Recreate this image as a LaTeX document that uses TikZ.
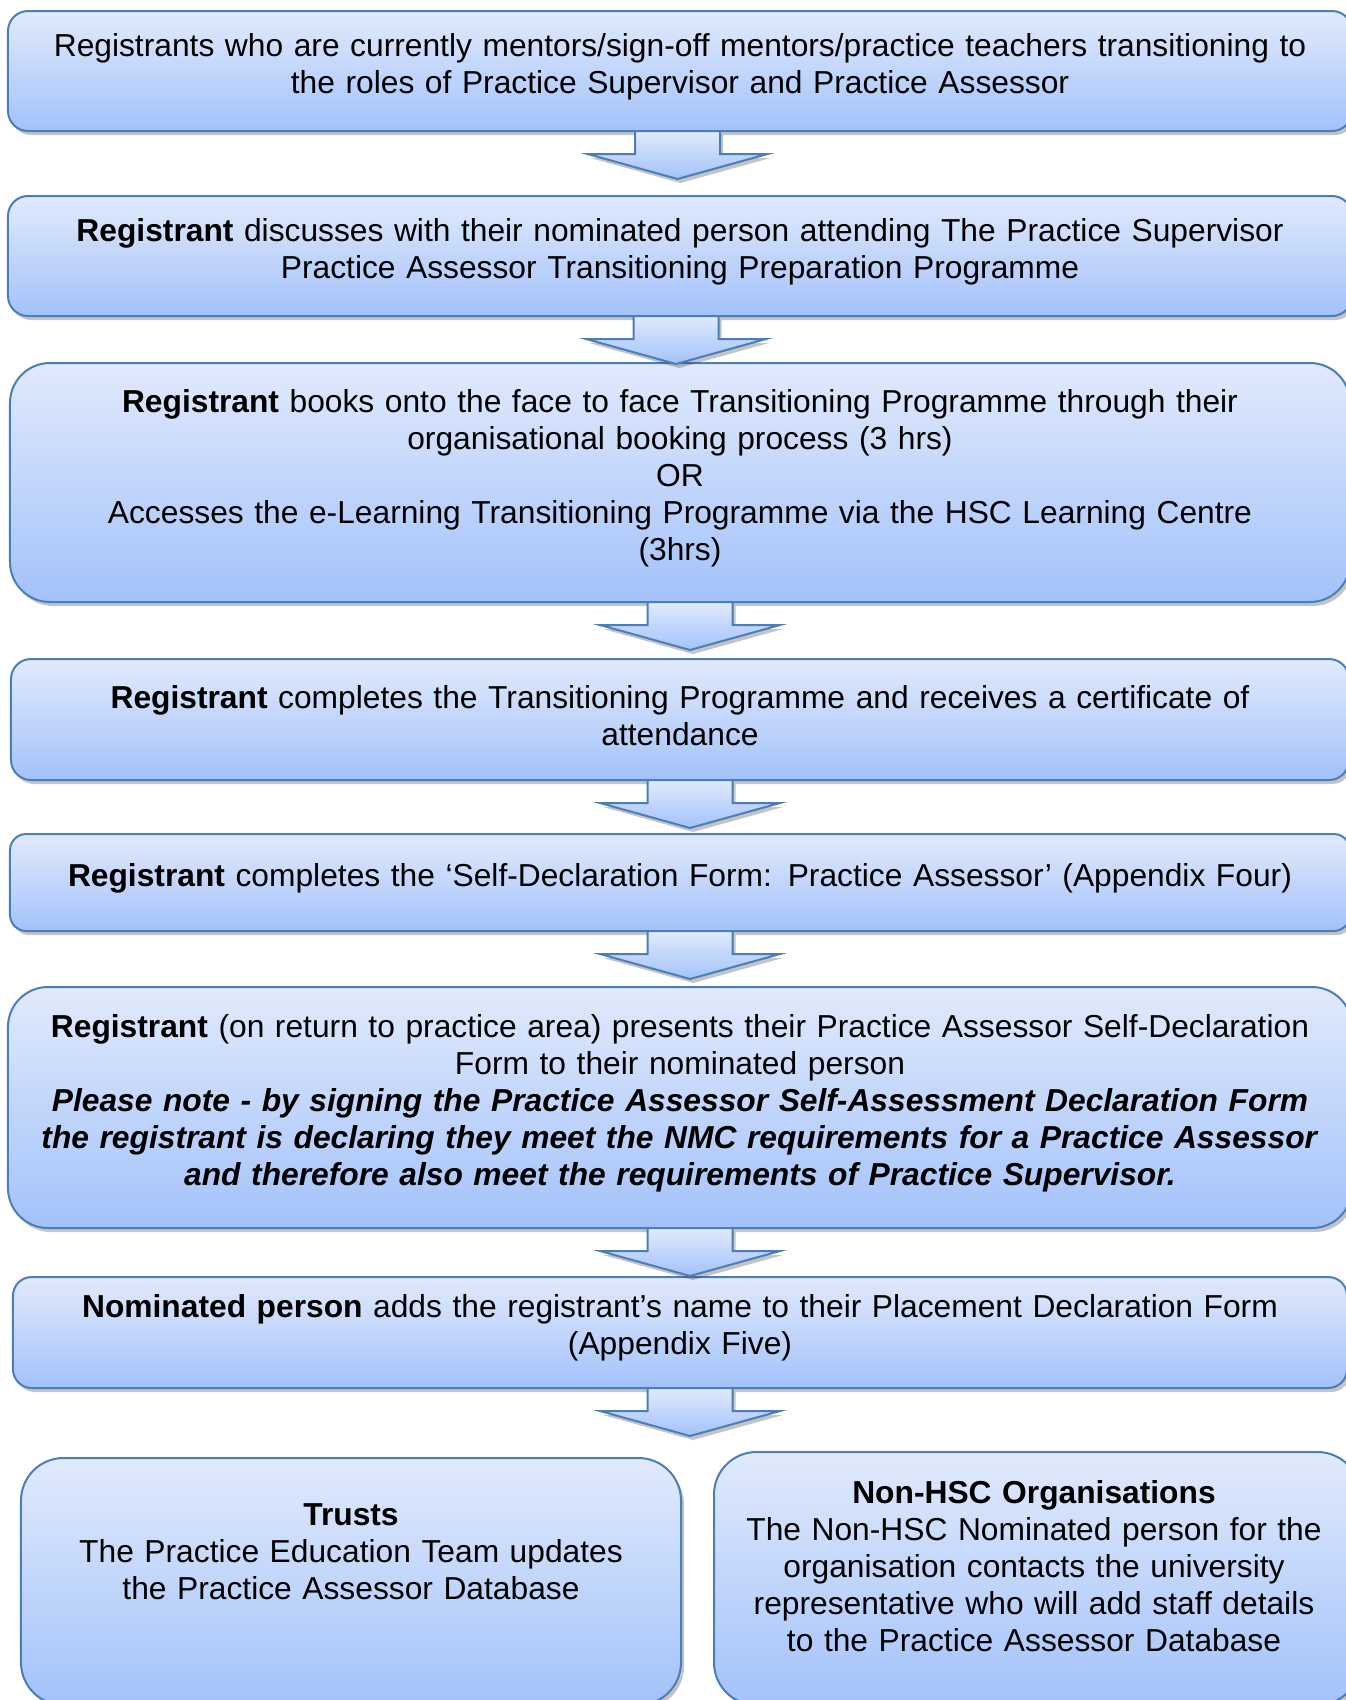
\documentclass[tikz,border=0pt]{standalone}
\usepackage{fontspec}
\setmainfont{Liberation Sans}
\usetikzlibrary{shapes,arrows.meta,positioning,shadows,calc}
\definecolor{flowedge}{RGB}{74,126,187}
\definecolor{flowtop}{RGB}{225,234,252}
\definecolor{flowbot}{RGB}{163,194,250}
\definecolor{shadegray}{RGB}{60,60,60}
\tikzset{
  stepbox/.style={rectangle, rounded corners=#1,
    draw=flowedge, line width=0.8pt,
    top color=flowtop, bottom color=flowbot,
    text width=530pt, inner sep=0pt, align=center,
    font=\fontsize{12.7}{14.8}\selectfont,
    execute at end node={\par\vspace*{3.4pt}},
    drop shadow={shadow xshift=1.2pt, shadow yshift=-1.6pt,
      opacity=0.3, fill=shadegray}},
  sidebox/.style={stepbox=#1, text width=10pt},
  sidetext/.style={text width=255pt, inner sep=0pt, align=center,
    font=\fontsize{12.7}{14.8}\selectfont},
  flowarr/.style={draw=flowedge, line width=0.8pt,
    top color=flowtop, bottom color=flowbot, line join=miter,
    drop shadow={shadow xshift=1.2pt, shadow yshift=-1.6pt,
      opacity=0.3, fill=shadegray}}
}
%% block arrow hanging below a box
\newcommand{\flowarrow}[2]{%
  \draw[flowarr] ($(#1.south)+(#2-42.5,-1)$) -- ++(0,23) -- ++(-47.5,0)
    -- ++(90,25) -- ++(90,-25) -- ++(-47.5,0) -- ++(0,-23) -- cycle;}

\begin{document}
\begin{tikzpicture}[x=0.4pt, y=-0.4pt]
\clip (0,0) rectangle (1346,1700);
\fill[white] (0,0) rectangle (1346,1700);

\node[stepbox=8pt, minimum width=537.6pt, minimum height=48pt] (intro) at (680,71)
  {Registrants who are currently mentors/sign-off mentors/practice teachers transitioning to\\
   the roles of Practice Supervisor and Practice Assessor};
\node[stepbox=8pt, minimum width=537.6pt, minimum height=48pt] (discuss) at (680,256)
  {\textbf{Registrant} discusses with their nominated person attending The Practice Supervisor\\
   Practice Assessor Transitioning Preparation Programme};
\node[stepbox=16pt, minimum width=536pt, minimum height=95.6pt] (book) at (680,482.5)
  {\textbf{Registrant} books onto the face to face Transitioning Programme through their\\
   organisational booking process (3 hrs)\\
   OR\\
   Accesses the e-Learning Transitioning Programme via the HSC Learning Centre\\
   (3hrs)};
\node[stepbox=8pt, minimum width=535.2pt, minimum height=48.4pt] (complete) at (680,719.5)
  {\textbf{Registrant} completes the Transitioning Programme and receives a certificate of\\
   attendance};
\node[stepbox=6.5pt, minimum width=536pt, minimum height=38.8pt] (selfdec) at (680,882.5)
  {\textbf{Registrant} completes the ‘Self-Declaration Form: Practice Assessor’ (Appendix Four)};
\node[stepbox=16pt, minimum width=537.6pt, minimum height=96.4pt] (present) at (680,1107.5)
  {\textbf{Registrant} (on return to practice area) presents their Practice Assessor Self-Declaration\\
   Form to their nominated person\\
   \textbf{\textit{Please note - by signing the Practice Assessor Self-Assessment Declaration Form}}\\
   \textbf{\textit{the registrant is declaring they meet the NMC requirements for a Practice Assessor}}\\
   \textbf{\textit{and therefore also meet the requirements of Practice Supervisor.}}};
\node[stepbox=7.5pt, minimum width=533.6pt, minimum height=44.4pt] (nominate) at (680,1332.5)
  {\textbf{Nominated person} adds the registrant’s name to their Placement Declaration Form\\
   (Appendix Five)};
\node[sidebox=17pt, minimum width=264pt, minimum height=98.8pt] (trusts) at (351,1581.5) {};
\node[sidebox=17pt, minimum width=258.4pt, minimum height=101.2pt] (nonhsc) at (1037,1578.5) {};
\node[sidetext] (truststxt) at (351,1552)
  {\textbf{Trusts}\\
   The Practice Education Team updates\\
   the Practice Assessor Database};
\node[sidetext] (nonhsctxt) at (1034,1566)
  {\textbf{Non-HSC Organisations}\\
   The Non-HSC Nominated person for the\\
   organisation contacts the university\\
   representative who will add staff details\\
   to the Practice Assessor Database};

%% Arrows
\flowarrow{intro}{-2.5}
\flowarrow{discuss}{-4}
\flowarrow{book}{10}
\flowarrow{complete}{10}
\flowarrow{selfdec}{10}
\flowarrow{present}{10}
\flowarrow{nominate}{10}

\end{tikzpicture}
\end{document}
